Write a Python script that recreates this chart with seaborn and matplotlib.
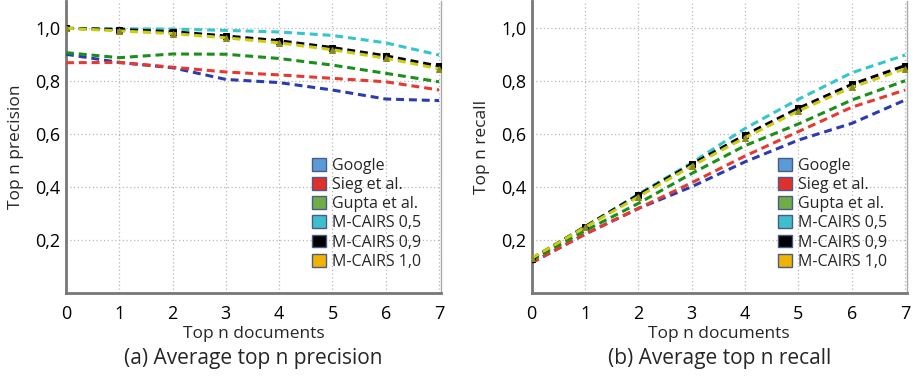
import matplotlib
matplotlib.use("Agg")
import matplotlib.pyplot as plt
from matplotlib.patches import Patch
from matplotlib.ticker import FuncFormatter
import pandas as pd
import seaborn as sns

top_n = [0, 1, 2, 3, 4, 5, 6, 7]
methods = ["Google", "Sieg et al.", "Gupta et al.", "M-CAIRS 0,5", "M-CAIRS 0,9", "M-CAIRS 1,0"]

precision = {
    "Google":       [0.900, 0.869, 0.849, 0.805, 0.793, 0.765, 0.731, 0.725],
    "Sieg et al.":  [0.868, 0.869, 0.851, 0.833, 0.822, 0.809, 0.796, 0.765],
    "Gupta et al.": [0.906, 0.887, 0.901, 0.900, 0.884, 0.859, 0.828, 0.796],
    "M-CAIRS 0,5":  [0.998, 0.996, 0.995, 0.990, 0.984, 0.971, 0.943, 0.897],
    "M-CAIRS 0,9":  [0.998, 0.993, 0.985, 0.969, 0.951, 0.925, 0.894, 0.855],
    "M-CAIRS 1,0":  [0.998, 0.988, 0.978, 0.962, 0.943, 0.917, 0.885, 0.845],
}
recall = {
    "Google":       [0.113, 0.221, 0.318, 0.400, 0.494, 0.576, 0.639, 0.727],
    "Sieg et al.":  [0.113, 0.221, 0.318, 0.415, 0.516, 0.608, 0.700, 0.765],
    "Gupta et al.": [0.123, 0.234, 0.337, 0.450, 0.555, 0.637, 0.727, 0.800],
    "M-CAIRS 0,5":  [0.130, 0.249, 0.372, 0.490, 0.620, 0.730, 0.830, 0.897],
    "M-CAIRS 0,9":  [0.128, 0.249, 0.369, 0.485, 0.595, 0.696, 0.786, 0.857],
    "M-CAIRS 1,0":  [0.130, 0.247, 0.362, 0.478, 0.585, 0.686, 0.775, 0.845],
}

line_colors = ["#2b3cb0", "#e63a30", "#1a8f1a", "#33c6cc", "#000000", "#cdcd10"]
patch_colors = ["#5b9bd5", "#e0302a", "#70ad47", "#3fbfcc", "#000000", "#f0b400"]
markers = [None, None, None, None, "s", "^"]
marker_colors = [None, None, None, None, "#000000", "#8a8a20"]

sns.set_theme(style="white")
plt.rcParams["font.family"] = ["Open Sans", "DejaVu Sans"]


def draw_panel(ax, data, ylabel, caption):
    for i, m in enumerate(methods):
        df = pd.DataFrame({"n": top_n, "v": data[m]})
        sns.lineplot(data=df, x="n", y="v", ax=ax, color=line_colors[i],
                     linewidth=2.2, linestyle=(0, (2.6, 1.6)),
                     marker=markers[i], markersize=5 if markers[i] else 0,
                     markerfacecolor=marker_colors[i] or line_colors[i],
                     markeredgecolor=marker_colors[i] or line_colors[i],
                     zorder=3 + i)
    ax.set_xlim(0, 7.03)
    ax.set_ylim(0, 1.1)
    ax.set_xticks(top_n)
    ax.set_yticks([0.2, 0.4, 0.6, 0.8, 1.0])
    ax.yaxis.set_major_formatter(FuncFormatter(lambda v, p: f"{v:.1f}".replace(".", ",")))
    ax.grid(True, color="#b8b8b8", linestyle=(0, (1, 2)), linewidth=0.9)
    ax.tick_params(labelsize=13, colors="black", length=0)
    ax.tick_params(axis="x", pad=9)
    ax.tick_params(axis="y", pad=4)
    ax.set_xlabel("Top n documents", fontsize=12.5, labelpad=2)
    ax.set_ylabel(ylabel, fontsize=12.5, labelpad=8)
    for s in ["left", "bottom"]:
        ax.spines[s].set_color("#777777")
        ax.spines[s].set_linewidth(2)
    ax.spines["right"].set_color("#aaaaaa")
    ax.spines["right"].set_linewidth(1)
    ax.spines["top"].set_visible(False)
    handles = [Patch(facecolor=patch_colors[i], edgecolor="#4a5a8a", linewidth=1, label=m)
               for i, m in enumerate(methods)]
    ax.legend(handles=handles, loc="upper left", bbox_to_anchor=(0.64, 0.485),
              frameon=False, fontsize=11.5, handlelength=0.85, handleheight=0.85,
              handletextpad=0.4, labelspacing=0.2, borderaxespad=0)
    ax.text(0.5, -0.19, caption, transform=ax.transAxes, ha="center", va="top", fontsize=15)


fig = plt.figure(figsize=(9.15, 3.79), dpi=100)
ax1 = fig.add_axes([0.0721, 0.2277, 0.4095, 0.769])
ax2 = fig.add_axes([0.5811, 0.2277, 0.4098, 0.769])
draw_panel(ax1, precision, "Top n precision", "(a) Average top n precision")
draw_panel(ax2, recall, "Top n recall", "(b) Average top n recall")

fig.savefig("out.png", dpi=100)
plt.close(fig)
